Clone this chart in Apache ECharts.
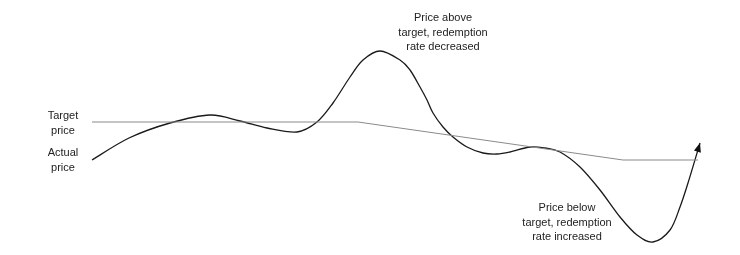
<!DOCTYPE html>
<html>
<head>
<meta charset="utf-8">
<script src="https://cdn.jsdelivr.net/npm/echarts@6/dist/echarts.min.js"></script>
<style>html,body{margin:0;padding:0;background:#fff}#c{width:740px;height:255px}</style>
</head>
<body>
<div id="c"></div>
<script>
// Actual price path: [time, price]
const actualTime  = [92, 129, 170, 210, 240, 267, 297, 317, 333, 350, 363, 380, 400, 410, 420, 427, 433, 443, 453, 467, 483, 497, 510, 530, 545, 560, 580, 600, 620, 637, 653, 670, 680, 688, 700];
const actualPrice = [95, 117, 132, 140, 134, 127, 123, 133, 152, 178, 195, 204, 195, 185, 168, 155, 142, 128, 118, 108, 102, 101, 103, 108, 107, 103, 88, 65, 38, 20, 13, 25, 48, 72, 112];
// Target price path
const targetTime  = [92, 358, 623, 698];
const targetPrice = [133, 133, 95, 95];
// Labels
const seriesLabels = ["Target\nprice", "Actual\nprice"];
const notes = ["Price above\ntarget, redemption\nrate decreased", "Price below\ntarget, redemption\nrate increased"];

const font = "Liberation Sans, Arial, sans-serif";

function renderActual(params, api) {
  const pts = actualTime.map((t, i) => api.coord([t, actualPrice[i]]));
  const n = pts.length;
  let d = 'M' + pts[0][0] + ',' + pts[0][1];
  for (let i = 0; i < n - 1; i++) {
    const p0 = pts[Math.max(i - 1, 0)], p1 = pts[i], p2 = pts[i + 1], p3 = pts[Math.min(i + 2, n - 1)];
    const c1x = p1[0] + (p2[0] - p0[0]) / 6, c1y = p1[1] + (p2[1] - p0[1]) / 6;
    const c2x = p2[0] - (p3[0] - p1[0]) / 6, c2y = p2[1] - (p3[1] - p1[1]) / 6;
    d += ' C' + c1x + ',' + c1y + ' ' + c2x + ',' + c2y + ' ' + p2[0] + ',' + p2[1];
  }
  // arrow head at the end, following the end tangent
  const tip = pts[n - 1], prev = pts[n - 2];
  let dx = tip[0] - prev[0], dy = tip[1] - prev[1];
  const len = Math.sqrt(dx * dx + dy * dy); dx /= len; dy /= len;
  const L = 9, W = 3.6;
  const bx = tip[0] - dx * L, by = tip[1] - dy * L;
  const arrow = [[tip[0], tip[1]], [bx - dy * W, by + dx * W], [bx + dy * W, by - dx * W]];
  return {
    type: 'group',
    children: [
      { type: 'path', shape: { pathData: d }, style: { stroke: '#1a1a1a', fill: null, lineWidth: 1.3 } },
      { type: 'polygon', shape: { points: arrow }, style: { fill: '#111', stroke: null } }
    ]
  };
}

const txt = (text, x, y) => ({
  type: 'text', x: x, y: y,
  style: { text: text, font: '11px ' + font, fill: '#222', align: 'center', textAlign: 'center', lineHeight: 14.5 }
});
const chart = echarts.init(document.getElementById('c'));
chart.setOption({
  animation: false,
  grid: { left: 0, right: 0, top: 0, bottom: 0 },
  xAxis: { type: 'value', min: 0, max: 740, show: false },
  yAxis: { type: 'value', min: 0, max: 255, show: false },
  series: [
    {
      type: 'line', data: targetTime.map((t, i) => [t, targetPrice[i]]),
      showSymbol: false, lineStyle: { color: '#8a8a8a', width: 1 }, silent: true
    },
    {
      type: 'custom', data: [[actualTime[0], actualPrice[0]]],
      renderItem: renderActual, silent: true, clip: false
    }
  ],
  graphic: [
    txt(seriesLabels[0], 63, 109),
    txt(seriesLabels[1], 63, 146),
    txt(notes[0], 443, 11),
    txt(notes[1], 567, 201)
  ]
});
</script>
</body>
</html>
